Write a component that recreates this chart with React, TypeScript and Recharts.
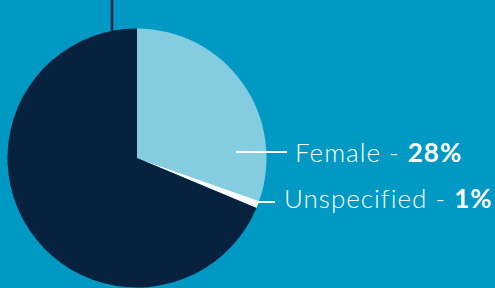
import React from "react"
import { PieChart, Pie, Cell } from "recharts"

const categories = ["Female", "Unspecified", "Male"]
const shares = [30.4, 0.9, 68.7]
const shareLabels = ["28%", "1%", "71%"]

const COLORS = {
  background: "#0099c3",
  female: "#84cce0",
  unspecified: "#ffffff",
  male: "#07223f",
}

const sliceColors = [COLORS.female, COLORS.unspecified, COLORS.male]

const data = categories.map((name, i) => ({
  name,
  value: shares[i],
  label: shareLabels[i],
  color: sliceColors[i],
}))

const FONT = "Lato, 'Open Sans', sans-serif"

// leader lines + text, placed relative to the pie centre
// (the male label text sits above the visible frame, only its line shows)
const renderLabel = (props: any) => {
  const { cx, cy, index, payload } = props
  const name = payload?.name ?? categories[index]
  const pct = payload?.label ?? shareLabels[index]

  if (index === 0) {
    return (
      <g key="lbl-0">
        <line x1={cx + 99} y1={cy - 6} x2={cx + 150} y2={cy - 6} stroke="#fff" strokeWidth={2} />
        <text x={cx + 158} y={cy + 4} fill="#fff" fontFamily={FONT} fontSize={26} fontWeight={300} letterSpacing={1}>
          {name} - <tspan fontWeight="bold">{pct}</tspan>
        </text>
      </g>
    )
  }
  if (index === 1) {
    return (
      <g key="lbl-1">
        <line x1={cx + 121} y1={cy + 44} x2={cx + 138} y2={cy + 44} stroke="#fff" strokeWidth={2} />
        <text x={cx + 147} y={cy + 50} fill="#fff" fontFamily={FONT} fontSize={26} fontWeight={300} letterSpacing={1}>
          {name} - <tspan fontWeight="bold">{pct}</tspan>
        </text>
      </g>
    )
  }
  return (
    <g key="lbl-2">
      <line x1={cx - 25} y1={cy - 127} x2={cx - 25} y2={cy - 175} stroke={COLORS.male} strokeWidth={2.5} />
    </g>
  )
}

export default function App() {
  return (
    <div style={{ position: "absolute", top: 0, left: 0, width: 495, height: 288, background: COLORS.background, overflow: "hidden" }}>
      <PieChart width={495} height={288} margin={{ top: 0, right: 0, bottom: 0, left: 0 }}>
        <Pie
          data={data}
          dataKey="value"
          nameKey="name"
          cx={137}
          cy={158}
          innerRadius={0}
          outerRadius={129.5}
          startAngle={90}
          endAngle={-270}
          stroke="none"
          label={renderLabel}
          labelLine={false}
          isAnimationActive={false}
        >
          {data.map((entry, index) => (
            <Cell key={`cell-${index}`} fill={entry.color} />
          ))}
        </Pie>
      </PieChart>
    </div>
  )
}
